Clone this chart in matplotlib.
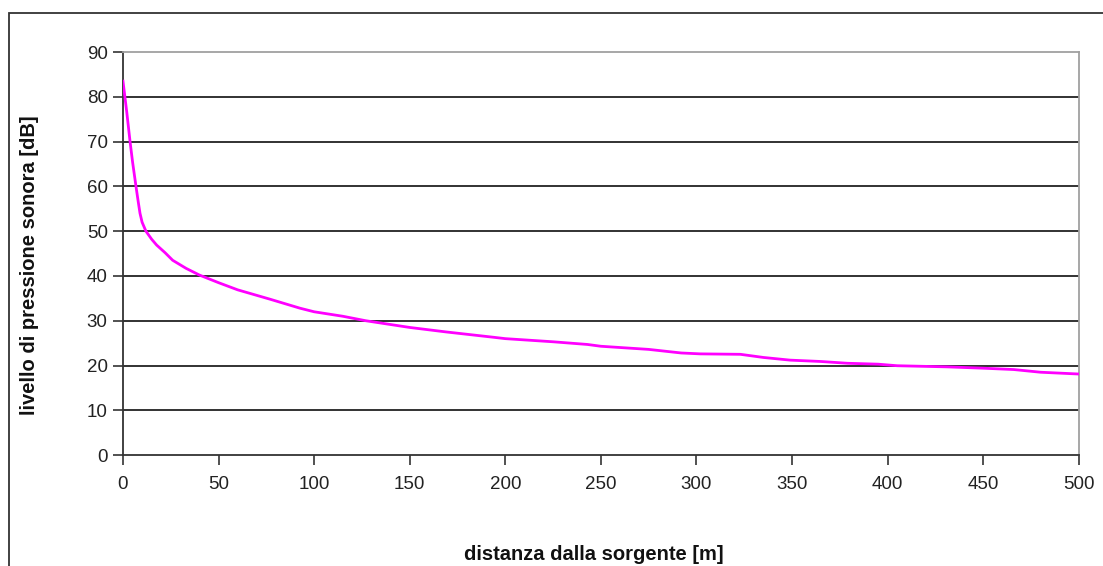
import numpy as np
import matplotlib
matplotlib.use("Agg")
import matplotlib.pyplot as plt
from matplotlib.patches import Rectangle

# values
distanza = [0, 2, 3.7, 5, 6.8, 8, 8.9, 10, 12, 15, 17.6, 22, 26, 33, 40, 50, 60,
            77, 92.6, 100, 115, 127, 150, 169, 194, 200, 225, 243, 250, 275, 292,
            302, 323, 335, 349, 365, 379, 395, 405, 431, 450, 466, 480, 500]
livello = [83.5, 76.5, 70.0, 65.5, 60.0, 56.5, 54.0, 52.0, 50.0, 48.2, 46.9, 45.2,
           43.5, 41.7, 40.2, 38.5, 36.9, 34.8, 32.8, 32.0, 31.0, 30.0, 28.5, 27.5,
           26.3, 26.0, 25.3, 24.7, 24.3, 23.6, 22.8, 22.6, 22.5, 21.8, 21.2, 20.9,
           20.5, 20.3, 19.95, 19.7, 19.4, 19.1, 18.5, 18.1]

x_ticks = list(range(0, 501, 50))
y_ticks = list(range(0, 91, 10))

plt.rcParams['font.family'] = ['Liberation Sans', 'DejaVu Sans']

fig = plt.figure(figsize=(11.03, 5.66), dpi=100)
ax = fig.add_axes([0.1115, 0.196, 0.8665, 0.712])

# outer chart frame (runs off the right and bottom edge)
fig.patches.append(Rectangle((9 / 1103, -0.1), 1.2, 1 - 13 / 566 + 0.1,
                             transform=fig.transFigure, fill=False,
                             edgecolor='#333333', linewidth=1.3))

for yv in y_ticks[1:-1]:
    ax.axhline(yv, color='#222222', linewidth=1.3, zorder=1)

ax.plot(distanza, livello, color='#ff00ff', linewidth=2.0, zorder=3)

ax.set_xlim(0, 500)
ax.set_ylim(0, 90)
ax.set_xticks(x_ticks)
ax.set_yticks(y_ticks)
ax.tick_params(axis='both', direction='out', length=7, width=1.2,
               color='#333333', labelsize=13.5, labelcolor='#222222')
ax.tick_params(axis='x', pad=8)
ax.tick_params(axis='y', pad=4)

ax.spines['left'].set_color('#333333')
ax.spines['bottom'].set_color('#333333')
ax.spines['left'].set_linewidth(1.3)
ax.spines['bottom'].set_linewidth(1.3)
ax.spines['top'].set_color('#a0a0a0')
ax.spines['right'].set_color('#a0a0a0')
ax.spines['top'].set_linewidth(1.3)
ax.spines['right'].set_linewidth(1.3)

ax.set_xlabel('distanza dalla sorgente [m]', fontsize=14.5, fontweight='bold',
              color='#111111')
ax.set_ylabel('livello di pressione sonora [dB]', fontsize=14.5, fontweight='bold',
              color='#111111')
ax.xaxis.set_label_coords(0.493, -0.222)
ax.yaxis.set_label_coords(-0.088, 0.471)

fig.savefig('out.png', dpi=100)
